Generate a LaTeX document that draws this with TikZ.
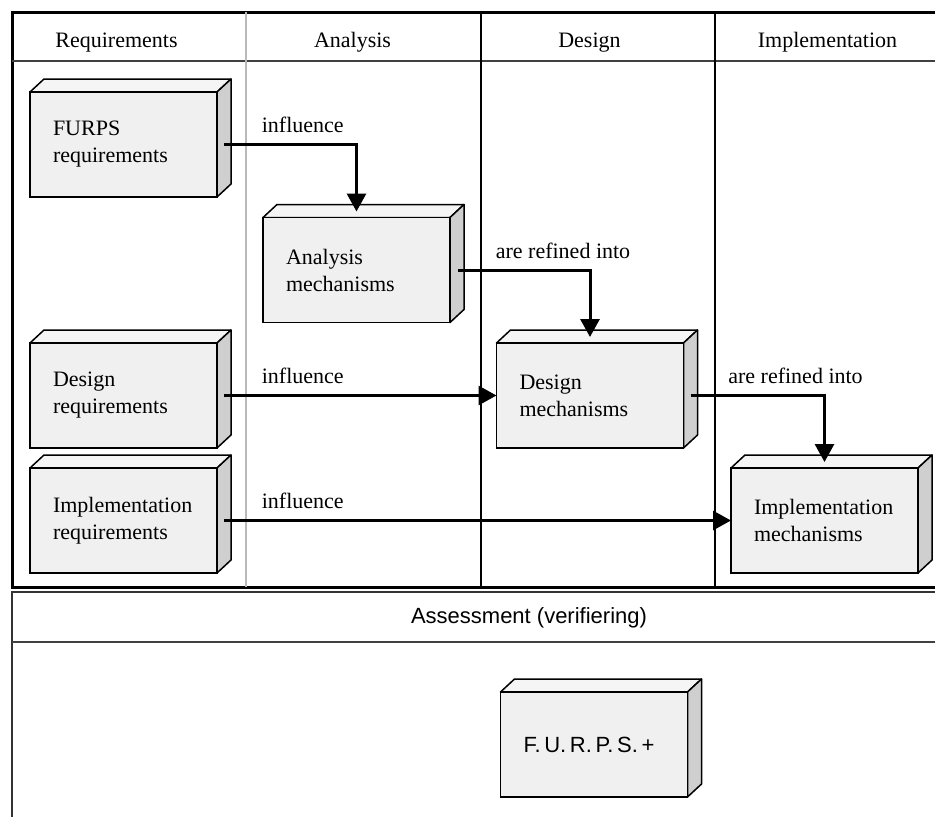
\documentclass[tikz,border=0pt]{standalone}
\usepackage{fontspec}
\setmainfont{Liberation Serif}
\newfontfamily\sansfont{Liberation Sans}
\usetikzlibrary{arrows.meta, positioning}

\begin{document}
\begin{tikzpicture}[
  x=1pt, y=-1pt,
  cube/.style={rectangle, draw, line width=1.5pt, fill=gray!12, outer sep=0pt,
    minimum width=187pt, minimum height=105pt, text width=141pt, inner xsep=23pt,
    align=left, font=\fontsize{22}{27}\selectfont,
    append after command={\pgfextra{\let\cubenode\tikzlastnode
      \draw[line width=1.5pt, line join=round, fill=gray!8] (\cubenode.north west) -- ++(14pt,13pt)
        -- ([shift={(14pt,13pt)}]\cubenode.north east) -- (\cubenode.north east) -- cycle;
      \draw[line width=1.5pt, line join=round, fill=gray!38] (\cubenode.north east) -- ++(14pt,13pt)
        -- ([shift={(14pt,13pt)}]\cubenode.south east) -- (\cubenode.south east) -- cycle;}}},
  lane/.style={anchor=base, font=\fontsize{22}{27}\selectfont},
  lbl/.style={anchor=base west, xshift=33pt, yshift=12pt, font=\fontsize{22}{27}\selectfont},
  arrow/.style={-{Triangle[length=18pt, width=19pt]}, line width=3pt},
]
\useasboundingbox (0,0) rectangle (935,817);

% Frames
\draw[line width=3pt] (935,12) -- (12,12) -- (12,587) -- (935,587);
\draw[line width=1.5pt, black!75] (12,61) -- (935,61);
\draw[line width=1.5pt, gray!55] (246,12) -- (246,587);
\draw[line width=2.5pt] (481,12) -- (481,587);
\draw[line width=2.5pt] (715,12) -- (715,587);
\draw[line width=2pt, black!80] (935,592) -- (12,592) -- (12,817);
\draw[line width=1.5pt, black!75] (12,642) -- (935,642);

% Headers
\node[lane] (hreq) at (116.5,47) {Requirements};
\node[lane] (hana) at (352.5,47) {Analysis};
\node[lane] (hdes) at (589.5,47) {Design};
\node[lane] (himp) at (827.5,47) {Implementation};
\node[anchor=base, font=\sansfont\fontsize{22}{27}\selectfont] (hass) at (529,623) {Assessment (verifiering)};

% Nodes
\node[cube] (furps) at (123.5,144.5) {FURPS\\requirements};
\node[cube] (analysis) at (356.5,270) {Analysis\\mechanisms};
\node[cube] (designreq) at (123.5,395.5) {Design\\requirements};
\node[cube] (implreq) at (123.5,520.5) {Implementation\\requirements};
\node[cube] (designmech) at (590,395.5) {Design\\mechanisms};
\node[cube] (implmech) at (824.5,520.5) {Implementation\\mechanisms};
\node[cube, font=\sansfont\fontsize{22}{27}\selectfont] (furpsplus) at (594,744.5) {F.\,U.\,R.\,P.\,S.\,+};

% Arrows
\draw[arrow] ([xshift=7pt]furps.east) node[lbl] {influence} -| ([yshift=6pt]analysis.north);
\draw[arrow] ([xshift=8pt]analysis.east) node[lbl] {are refined into} -| ([yshift=6pt]designmech.north);
\draw[arrow] ([xshift=7pt]designreq.east) node[lbl] {influence} -- (designmech.west);
\draw[arrow] ([xshift=7pt]designmech.east) node[lbl] {are refined into} -| ([yshift=6pt]implmech.north);
\draw[arrow] ([xshift=7pt]implreq.east) node[lbl] {influence} -- (implmech.west);

\end{tikzpicture}
\end{document}
